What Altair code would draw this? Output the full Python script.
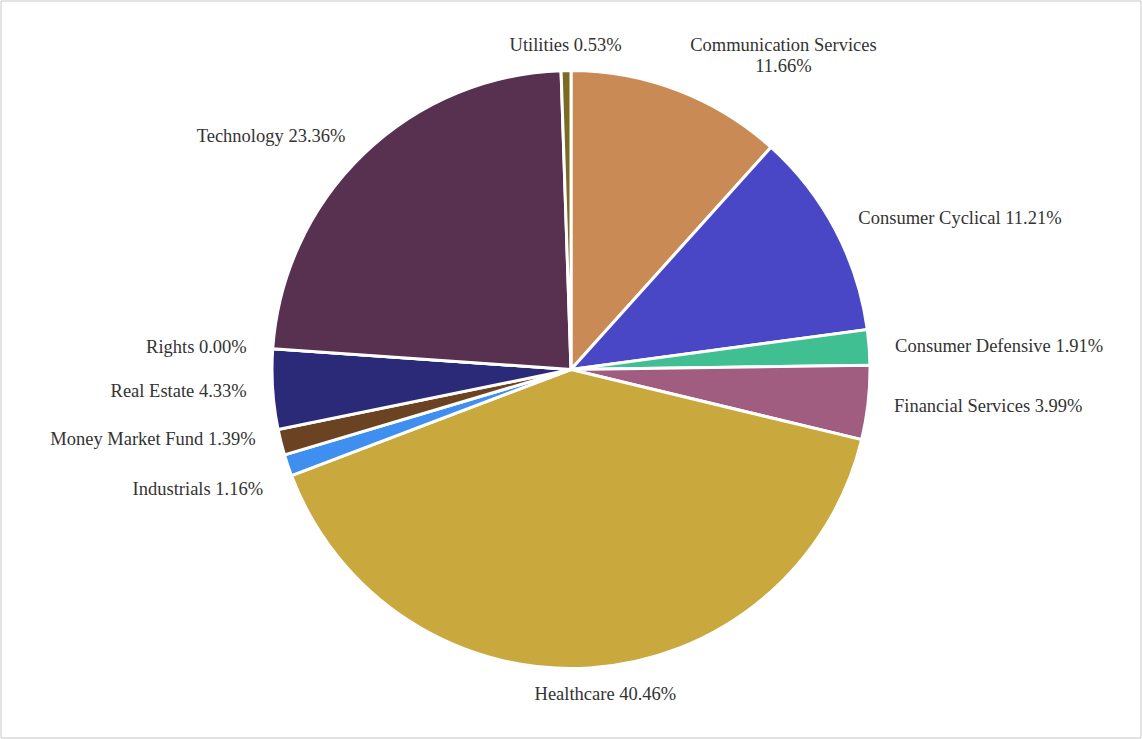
import altair as alt
import pandas as pd

categories = ["Communication Services", "Consumer Cyclical", "Consumer Defensive",
              "Financial Services", "Healthcare", "Industrials", "Money Market Fund",
              "Real Estate", "Rights", "Technology", "Utilities"]
values = [11.66, 11.21, 1.91, 3.99, 40.46, 1.16, 1.39, 4.33, 0.00, 23.36, 0.53]
colors = ["#C98A56", "#4A47C6", "#40BF92", "#A15D80", "#C9A83E", "#3F8FF0",
          "#6B4322", "#2A2A78", "#8A8A8A", "#583151", "#7A6A22"]

df = pd.DataFrame({"category": categories, "value": values})

FONT = "Liberation Serif"
W, H = 1140, 737

base = alt.Chart(df)

frame = alt.Chart(pd.DataFrame({"f": [0]})).mark_rect(
    fill="white", stroke="#c8c8c8", strokeWidth=1
).encode(x=alt.value(0), x2=alt.value(W), y=alt.value(0), y2=alt.value(H))

pie = base.mark_arc(outerRadius=299, stroke="white", strokeWidth=3).encode(
    theta=alt.Theta("value:Q", stack=True),
    color=alt.Color("category:N", scale=alt.Scale(domain=categories, range=colors), legend=None),
    order=alt.Order("category:N", sort="ascending"),
)

lab = base.transform_joinaggregate(
    total="sum(value)"
).transform_window(
    cum="sum(value)", sort=[alt.SortField("category", order="ascending")], frame=[None, 0]
).transform_calculate(
    mid="(datum.cum - datum.value / 2) / datum.total",
    s="sin(2 * PI * datum.mid)",
    label="datum.category + ' ' + format(datum.value, '.2f') + '%'",
    label2="datum.category + '\\n' + format(datum.value, '.2f') + '%'",
)

theta_enc = alt.Theta("mid:Q", stack=None, scale=alt.Scale(domain=[0, 1], range=[0, 6.283185307179586]))

def text_layer(filt, align, field="label", dx=0, dy=0):
    return lab.transform_filter(filt).mark_text(
        radius=325, align=align, baseline="middle", font=FONT, fontSize=18.5,
        color="#333333", lineBreak="\n", dx=dx, dy=dy
    ).encode(theta=theta_enc, text=alt.Text(f"{field}:N"))

left = text_layer("datum.s > 0.1 && datum.category != 'Communication Services'", "left")
right = text_layer("datum.s < -0.1 && datum.category != 'Industrials' && datum.category != 'Money Market Fund'", "right")
right_up = text_layer("datum.category == 'Money Market Fund'", "right", dy=-10)
right_down = text_layer("datum.category == 'Industrials'", "right", dy=15)
center = text_layer("abs(datum.s) <= 0.1 && datum.category != 'Healthcare'", "center")
bottom = text_layer("datum.category == 'Healthcare'", "center", dx=14)
wrapped = text_layer("datum.category == 'Communication Services'", "center", field="label2", dx=96, dy=-21)

chart = alt.layer(frame, pie, left, right, right_up, right_down, center, bottom, wrapped).resolve_scale(
    theta="independent"
).properties(
    width=W, height=H, padding=1,
    autosize=alt.AutoSizeParams(type="none"),
    background="white",
).configure_view(stroke=None)

chart.save("out.html", embed_options={"renderer": "svg", "actions": False})
